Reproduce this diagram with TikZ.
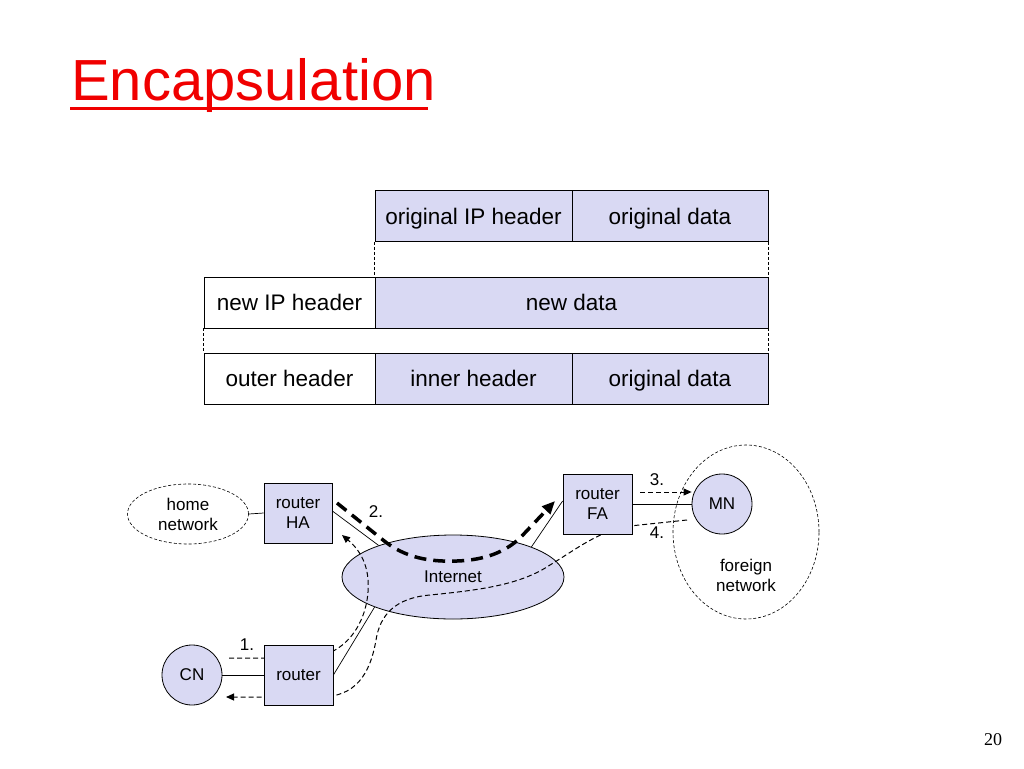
\documentclass[tikz,border=0pt]{standalone}
\usepackage{fontspec}
\setmainfont{Liberation Sans}
\newfontfamily\serifnum{Liberation Serif}
\usetikzlibrary{shapes.geometric,arrows.meta}
\definecolor{lav}{RGB}{217,217,243}
\definecolor{titlered}{RGB}{240,0,0}
\tikzset{
  cell/.style={draw, line width=0.8pt, fill=lav, minimum height=51pt, inner sep=0pt, text height=18pt, text depth=2pt, font=\fontsize{22.5}{25}\selectfont},
  wcell/.style={cell, fill=white},
  thindash/.style={draw, line width=0.6pt, dash pattern=on 3pt off 2pt},
  netbox/.style={draw, line width=0.8pt, fill=lav, minimum width=68pt, minimum height=60pt, inner sep=0pt, align=center, font=\fontsize{17}{20}\selectfont},
  netcirc/.style={draw, line width=0.8pt, fill=lav, circle, minimum size=60pt, inner sep=0pt, font=\fontsize{17}{20}\selectfont},
  lbl/.style={font=\fontsize{17}{20}\selectfont, align=center, inner sep=0pt},
  link/.style={line width=0.7pt},
  flow/.style={line width=1pt, dash pattern=on 5pt off 3pt, -{Triangle[length=8pt,width=7pt]}},
  bigflow/.style={line width=3.5pt, dash pattern=on 12pt off 7pt, -{Triangle[length=13pt,width=11pt]}},
}
\begin{document}
\begin{tikzpicture}[x=1pt,y=-1pt]
\useasboundingbox (0,0) rectangle (1024,768);
% title
\node[anchor=base west, inner sep=0pt, text=titlered, font=\fontsize{58}{62}\selectfont] (title) at (71,100) {Encapsulation};
\draw[titlered, line width=3pt] (70,108) -- (428,108);
% packet rows
\node[cell, minimum width=197pt] (oih) at (473.5,216) {original IP header};
\node[cell, minimum width=196pt] (od1) at (670,216) {original data};
\node[wcell, minimum width=171pt] (nih) at (289.5,302.5) {new IP header};
\node[cell, minimum width=393pt] (nd) at (571.5,302.5) {new data};
\node[wcell, minimum width=171pt] (outer) at (289.5,378.5) {outer header};
\node[cell, minimum width=197pt] (inner) at (473.5,378.5) {inner header};
\node[cell, minimum width=196pt] (od2) at (670,378.5) {original data};
\draw[thindash] (oih.south west) -- (nd.north west);
\draw[thindash] (od1.south east) -- (nd.north east);
\draw[thindash] (nih.south west) -- (outer.north west);
\draw[thindash] (nd.south east) -- (od2.north east);
% network diagram
\node[draw, ellipse, thindash, minimum width=121pt, minimum height=60pt, inner sep=0pt, lbl] (home) at (188,514) {home\\network};
\node[draw, ellipse, thindash, minimum width=146pt, minimum height=174pt] (foreign) at (746,532) {};
\node[lbl] (foreignlbl) at (746,575) {foreign\\network};
\node[draw, ellipse, line width=0.8pt, fill=lav, minimum width=222pt, minimum height=84pt, inner sep=0pt, font=\fontsize{17}{20}\selectfont] (inet) at (453,577) {Internet};
% dashed flow 4 (drawn below the boxes)
\coordinate (p4s) at (687,520);
\coordinate (p4e) at (226,697);
\draw[flow] (p4s) -- (630,526) .. controls (600,530) and (575,550) .. (550,565) .. controls (520,585) and (480,590) .. (430,595) .. controls (395,598) and (380,615) .. (376,640) .. controls (370,675) and (355,697) .. (320,697) -- (p4e);
% dashed flow 1
\coordinate (p1s) at (229,658);
\coordinate (p1e) at (342,535);
\draw[flow] (p1s) -- (305,658) .. controls (340,658) and (365,630) .. (368,592) .. controls (370,566) and (360,550) .. (p1e);
\node[netbox] (ha) at (298,513) {router\\HA};
\node[netbox, minimum width=69pt] (fa) at (597.5,504) {router\\FA};
\node[netcirc] (mn) at (722,504) {MN};
\node[netcirc] (cn) at (192,675) {CN};
\node[netbox, minimum width=69pt] (rt) at (298.5,675) {router};
\draw[link] (home.east) -- (ha.west);
\draw[link] ([yshift=2pt]ha.east) -- (inet.157);
\draw[link] ([yshift=3pt]fa.west) -- (inet.21);
\draw[link] (rt.east) -- (inet.201);
\draw[link] (fa.east) -- (mn.west);
\draw[link] (cn.east) -- (rt.west);
% thick flow 2
\coordinate (p2s) at (337,503);
\coordinate (p2e) at (555,501);
\draw[bigflow] (p2s) -- (383,540) .. controls (405,558) and (430,562) .. (457,561) .. controls (485,560) and (505,552) .. (520,538) -- (p2e);
% flow 3
\coordinate (p3s) at (640,492);
\draw[flow] (p3s) -- (mn.west |- p3s);
% labels
\node[lbl] (l1) at (247,645) {1.};
\node[lbl] (l2) at (376,512) {2.};
\node[lbl] (l3) at (657,480) {3.};
\node[lbl] (l4) at (657,533) {4.};
\node[inner sep=0pt, font=\serifnum\fontsize{18}{20}\selectfont] (pg) at (993,740) {20};
\end{tikzpicture}
\end{document}
